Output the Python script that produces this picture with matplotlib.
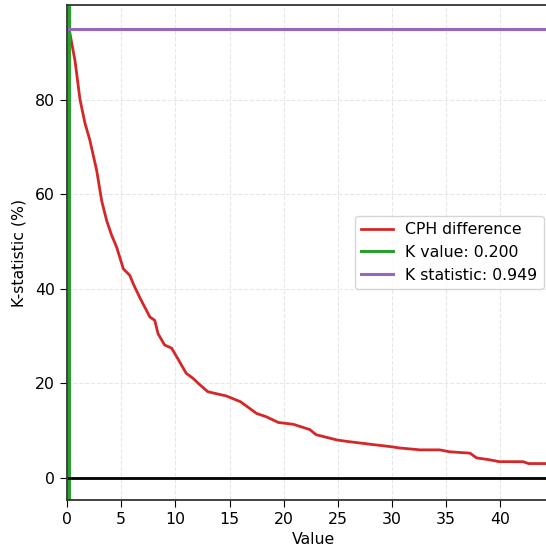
import matplotlib
matplotlib.use("Agg")
import matplotlib.pyplot as plt
import numpy as np

# CPH difference curve
value = [0.2, 0.74, 1.2, 1.66, 2.1, 2.74, 3.2, 3.66, 4.12, 4.58, 5.2, 5.8, 6.1,
         6.7, 7.65, 8.1, 8.4, 9.0, 9.66, 10.3, 11.0, 11.65, 12.1, 13.0, 14.7,
         16.0, 17.5, 18.4, 19.5, 20.9, 22.4, 23.0, 24.9, 25.8, 28.3, 29.8,
         30.7, 32.6, 34.4, 35.3, 37.2, 37.8, 39.0, 39.9, 42.1, 42.6, 45.5]
cph_diff = [94.9, 88.2, 80.0, 75.0, 71.5, 65.0, 58.6, 54.4, 51.3, 48.8, 44.2,
            42.8, 41.1, 38.2, 34.0, 33.3, 30.5, 28.1, 27.4, 24.9, 22.1, 21.0,
            20.0, 18.2, 17.3, 16.1, 13.6, 12.9, 11.7, 11.3, 10.2, 9.1, 8.0,
            7.7, 7.0, 6.6, 6.3, 5.9, 5.9, 5.5, 5.2, 4.2, 3.8, 3.4, 3.4, 3.0, 3.0]

k_value = 0.200
k_statistic = 0.949

fs = 11.3
fig = plt.figure(figsize=(5.46, 5.49), dpi=100)
ax = fig.add_axes([0.1227, 0.0893, 0.9029, 0.9016])

ax.plot(value, cph_diff, color="#d62728", linewidth=2, label="CPH difference")
ax.axvline(k_value, color="#2ca02c", linewidth=2.2, label=f"K value: {k_value:.3f}")
ax.axhline(k_statistic * 100, color="#9467bd", linewidth=2.2,
           label=f"K statistic: {k_statistic:.3f}")
ax.axhline(0, color="black", linewidth=2)

ax.set_xlim(0, 45.5)
ax.set_ylim(-4.7, 100)
ax.set_xticks(np.arange(0, 45, 5))
ax.set_yticks([0, 20, 40, 60, 80])
ax.tick_params(labelsize=fs, length=5)
ax.grid(True, linestyle="--", alpha=0.3)
for s in ax.spines.values():
    s.set_color("#333333")
    s.set_linewidth(1.3)

ax.set_xlabel("Value", fontsize=fs)
ax.set_ylabel("K-statistic (%)", fontsize=fs, labelpad=6)
ax.legend(loc="center left", bbox_to_anchor=(0.584, 0.5), borderaxespad=0,
          fontsize=fs)

fig.savefig("out.png", dpi=100)
